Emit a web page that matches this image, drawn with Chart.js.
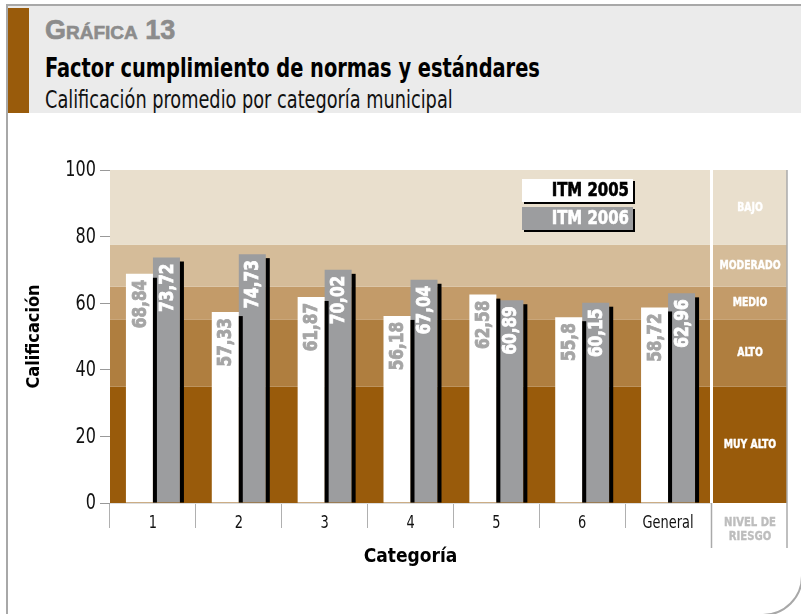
<!DOCTYPE html>
<html>
<head>
<meta charset="utf-8">
<script src="https://cdn.jsdelivr.net/npm/chart.js@4.4.1/dist/chart.umd.min.js"></script>
<style>
  body { margin: 0; background: #fff; width: 801px; height: 614px; overflow: hidden; position: relative; }
  .frame { position: absolute; left: 6px; top: 4px; width: 793px; height: 608px; border: 2px solid #a8a8a8; border-bottom-right-radius: 40px; }
  .head { position: absolute; left: 8px; top: 6px; width: 793px; height: 107px; background: #ebebeb; }
  .brown { position: absolute; left: 8px; top: 8px; width: 21px; height: 105px; background: #995b0b; }
  .t { position: absolute; left: 45px; white-space: nowrap; transform-origin: 0 0; }
  .t1 { top: 14px; font: bold 27px "Liberation Sans", "Open Sans", sans-serif; font-variant: small-caps; color: #8c8c8c; line-height: 32px; -webkit-text-stroke: 0.6px #8c8c8c; }
  .t2 { top: 51px; font: bold 27px "DejaVu Sans Condensed", "Liberation Sans Narrow", sans-serif; color: #000; line-height: 34px; }
  .t3 { top: 85px; font: 24px "DejaVu Sans Condensed", "Liberation Sans Narrow", sans-serif; color: #111; line-height: 30px; }
  canvas { position: absolute; left: 0; top: 0; }
</style>
</head>
<body>
<div class="frame"></div>
<div class="head"></div>
<div class="brown"></div>
<div class="t t1">Gráfica 13</div>
<div class="t t2" data-w="495">Factor cumplimiento de normas y estándares</div>
<div class="t t3" data-w="408">Calificación promedio por categoría municipal</div>
<canvas id="chart" width="801" height="614"></canvas>
<script>
let categorias = ['1', '2', '3', '4', '5', '6', 'General']
let itm2005 = [68.84, 57.33, 61.87, 56.18, 62.58, 55.8, 58.72]
let itm2006 = [73.72, 74.73, 70.02, 67.04, 60.89, 60.15, 62.96]
let yTicks = [0, 20, 40, 60, 80, 100]
let nivelLimites = [0, 35, 55, 65, 77.5, 100]
let nivelNombres = ['MUY ALTO', 'ALTO', 'MEDIO', 'MODERADO', 'BAJO']
let nivelColores = ['#995b0b', '#af7e3f', '#c39b69', '#d5bc99', '#e9dfcd']

// ajustar titulos al ancho (fuente condensada)
document.querySelectorAll('.t[data-w]').forEach(el => {
  el.style.transform = 'scaleX(' + (el.dataset.w / el.offsetWidth) + ')'
})

const cond = '"DejaVu Sans Condensed", "Liberation Sans Narrow", sans-serif'
Chart.defaults.font.family = cond
Chart.defaults.color = '#111'

const colW = 76  // columna "nivel de riesgo"

function texto(ctx, txt, x, y, sx, rot, grueso) {
  ctx.save()
  ctx.translate(x, y)
  if (rot) ctx.rotate(rot)
  ctx.scale(sx, 1)
  ctx.fillText(txt, 0, 0)
  if (grueso) {
    ctx.strokeStyle = ctx.fillStyle
    ctx.lineWidth = grueso
    ctx.strokeText(txt, 0, 0)
  }
  ctx.restore()
}

const fondo = {
  id: 'fondo',
  beforeDatasetsDraw(chart) {
    const {ctx, chartArea: a, scales: {x, y}} = chart
    const r = a.right + colW
    ctx.save()
    for (let i = 0; i < nivelNombres.length; i++) {
      const y0 = y.getPixelForValue(nivelLimites[i])
      const y1 = y.getPixelForValue(nivelLimites[i + 1])
      ctx.fillStyle = nivelColores[i]
      ctx.fillRect(a.left, y1, r - a.left, y0 - y1)
    }
    ctx.fillStyle = '#fff'
    ctx.fillRect(a.right - 1, a.top, 3, a.bottom - a.top)
    ctx.strokeStyle = '#aaa'
    ctx.lineWidth = 1.5
    ctx.beginPath()
    ctx.moveTo(a.right + 0.5, a.bottom); ctx.lineTo(a.right + 0.5, a.bottom + 45)
    ctx.moveTo(r, a.top); ctx.lineTo(r, a.bottom + 45)
    ctx.stroke()
    ctx.textAlign = 'center'
    ctx.textBaseline = 'middle'
    ctx.fillStyle = '#fff'
    ctx.font = 'bold 12px ' + cond
    for (let i = 0; i < nivelNombres.length; i++) {
      const ym = y.getPixelForValue((nivelLimites[i] + nivelLimites[i + 1]) / 2)
      texto(ctx, nivelNombres[i], a.right + colW / 2 + 1, ym, 0.86, 0, 0.4)
    }
    ctx.fillStyle = '#bdbdbd'
    ctx.font = 'bold 13px ' + cond
    texto(ctx, 'NIVEL DE', a.right + colW / 2 + 1, a.bottom + 20, 0.86, 0, 0.4)
    texto(ctx, 'RIESGO', a.right + colW / 2 + 1, a.bottom + 34, 0.86, 0, 0.4)
    // etiquetas de los ejes
    ctx.fillStyle = '#111'
    ctx.font = '18px ' + cond
    x.ticks.forEach((t, i) => {
      texto(ctx, categorias[i], x.getPixelForTick(i), a.bottom + 20, 0.8)
    })
    ctx.font = '21px ' + cond
    ctx.textAlign = 'right'
    y.ticks.forEach(t => {
      texto(ctx, String(t.value), a.left - 14, y.getPixelForValue(t.value) + 1, 0.85)
    })
    ctx.restore()
  }
}

const sombras = {
  id: 'sombras',
  afterDatasetsDraw(chart) {
    const {ctx} = chart
    ctx.save()
    chart.data.datasets.forEach((ds, di) => {
      chart.getDatasetMeta(di).data.forEach(bar => {
        ctx.fillStyle = '#000'
        ctx.fillRect(bar.x + bar.width / 2, bar.y + 4, 4, bar.base - bar.y - 4)
      })
    })
    ctx.font = 'bold 20px ' + cond
    ctx.textAlign = 'right'
    ctx.textBaseline = 'middle'
    chart.data.datasets.forEach((ds, di) => {
      chart.getDatasetMeta(di).data.forEach((bar, i) => {
        ctx.fillStyle = di === 0 ? '#a5a5a5' : '#fff'
        texto(ctx, String(ds.data[i]).replace('.', ','), bar.x + 1, bar.y + 6, 0.85, -Math.PI / 2, 0.8)
      })
    })
    // leyenda
    const boxes = [[522, 179], [522, 207]]
    chart.data.datasets.forEach((ds, di) => {
      const [bx, by] = boxes[di]
      ctx.fillStyle = '#000'
      ctx.fillRect(bx + 2, by + 2, 111, 23)
      ctx.fillStyle = ds.backgroundColor
      ctx.fillRect(bx, by, 111, 23)
      ctx.fillStyle = di === 0 ? '#000' : '#fff'
      texto(ctx, ds.label, bx + 107, by + 12, 0.83, 0, 0.6)
    })
    ctx.restore()
  }
}

const ctx = document.getElementById('chart').getContext('2d')
const myChart = new Chart(ctx, {
  type: 'bar',
  data: {
    labels: categorias,
    datasets: [{
      label: 'ITM 2005',
      data: itm2005,
      backgroundColor: '#ffffff',
      borderWidth: 0
    }, {
      label: 'ITM 2006',
      data: itm2006,
      backgroundColor: '#9c9d9f',
      borderWidth: 0
    }]
  },
  options: {
    responsive: false,
    animation: false,
    events: [],
    layout: { padding: { left: 16, top: 170, right: 90, bottom: 0 } },
    categoryPercentage: 0.629,
    barPercentage: 1,
    plugins: { legend: { display: false }, tooltip: { enabled: false } },
    scales: {
      x: {
        afterFit(s) { s.height = 111 },
        grid: { drawOnChartArea: false, tickLength: 25, color: '#b0b0b0', offset: true },
        border: { color: '#dddddd' },
        ticks: { display: false },
        title: { display: true, text: 'Categoría', font: { size: 19, weight: 'bold' }, color: '#000', padding: { top: 0, bottom: 46 } }
      },
      y: {
        min: 0, max: 100,
        afterFit(s) { s.width = 94 },
        afterBuildTicks(s) { s.ticks = yTicks.map(v => ({ value: v })) },
        grid: { drawOnChartArea: false, tickLength: 10, color: '#999' },
        border: { display: false },
        ticks: { display: false },
        title: { display: true, text: 'Calificación', font: { size: 18, weight: 'bold' }, color: '#000', padding: { top: 8, bottom: 0 } }
      }
    }
  },
  plugins: [fondo, sombras]
})
</script>
</body>
</html>
